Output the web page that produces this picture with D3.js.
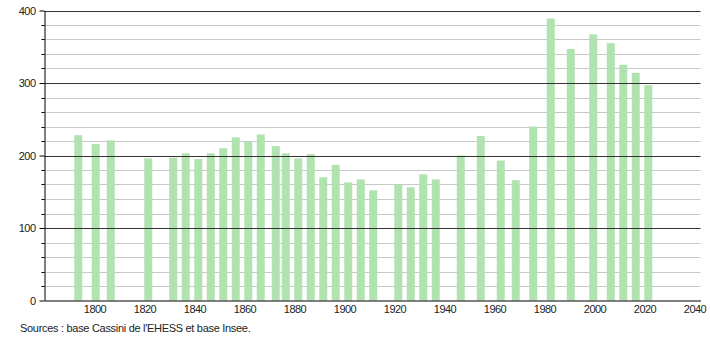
<!DOCTYPE html>
<html>
<head>
<meta charset="utf-8">
<script src="https://cdn.jsdelivr.net/npm/d3@7"></script>
<style>
  body { margin: 0; background: #fff; }
  text { font-family: "Liberation Sans", Arial, sans-serif; }
</style>
</head>
<body>
<div id="chart"></div>
<script>
// census years and population
var years = [1793, 1800, 1806, 1821, 1831, 1836, 1841, 1846, 1851, 1856, 1861, 1866,
  1872, 1876, 1881, 1886, 1891, 1896, 1901, 1906, 1911, 1921, 1926, 1931, 1936,
  1946, 1954, 1962, 1968, 1975, 1982, 1990, 1999, 2006, 2011, 2016, 2021];
var population = [228, 216, 221, 196, 197, 203, 195, 203, 210, 225, 219, 229,
  213, 203, 196, 202, 170, 187, 163, 167, 152, 160, 156, 174, 167,
  200, 227, 193, 166, 240, 389, 347, 367, 355, 325, 314, 297];
var xTicks = [1800, 1820, 1840, 1860, 1880, 1900, 1920, 1940, 1960, 1980, 2000, 2020, 2040];
var yTicks = [0, 100, 200, 300, 400];
var source = "Sources : base Cassini de l'EHESS et base Insee.";

var svgWidth = 710;
var svgHeight = 340;

var svg = d3.select("#chart")
  .append("svg")
  .attr("width", svgWidth)
  .attr("height", svgHeight);

var x = d3.scaleLinear()
  .domain([1780, 2042.4])
  .range([44.5, 700.5]);

var y = d3.scaleLinear()
  .domain([0, 400])
  .range([300.5, 10.5]);

// minor grid every 20
var minor = d3.range(20, 400, 20).filter(d => d % 100 != 0);
svg.append("g")
  .selectAll("line")
  .data(minor)
  .enter()
  .append("line")
  .attr("x1", 44.5)
  .attr("x2", 700.5)
  .attr("y1", d => Math.round(y(d)) + 0.5)
  .attr("y2", d => Math.round(y(d)) + 0.5)
  .attr("stroke", "#c8c8c8")
  .attr("stroke-width", 1);

// bars
svg.append("g")
  .selectAll("rect")
  .data(years)
  .enter()
  .append("rect")
  .attr("x", (d, i) => x(d + 0.5) - 4)
  .attr("y", (d, i) => y(population[i]))
  .attr("width", 8)
  .attr("height", (d, i) => y(0) - y(population[i]))
  .attr("fill", "#b0e3b0");

// major grid drawn over bars
svg.append("g")
  .selectAll("line")
  .data(yTicks.filter(d => d > 0))
  .enter()
  .append("line")
  .attr("x1", 44.5)
  .attr("x2", 700.5)
  .attr("y1", d => Math.round(y(d)) + 0.5)
  .attr("y2", d => Math.round(y(d)) + 0.5)
  .attr("stroke", "#333")
  .attr("stroke-width", 1);

// y axis with major and minor ticks
var yAxis = d3.axisLeft(y)
  .tickValues(yTicks)
  .tickSize(5)
  .tickSizeOuter(0)
  .tickPadding(4);

var yg = svg.append("g")
  .attr("transform", "translate(44.5,0)")
  .call(yAxis);
yg.select(".domain").attr("stroke", "#000");
yg.selectAll("text")
  .style("font-size", "11px")
  .style("letter-spacing", "-0.5px")
  .attr("fill", "#222");

svg.append("g")
  .selectAll("line")
  .data(minor)
  .enter()
  .append("line")
  .attr("x1", 41.5)
  .attr("x2", 44.5)
  .attr("y1", d => Math.round(y(d)) + 0.5)
  .attr("y2", d => Math.round(y(d)) + 0.5)
  .attr("stroke", "#000");

// x axis
var xAxis = d3.axisBottom(x)
  .tickValues(xTicks)
  .tickFormat(d3.format("d"))
  .tickSize(0)
  .tickSizeOuter(0)
  .tickPadding(5);

var xg = svg.append("g")
  .attr("transform", "translate(0,300.5)")
  .call(xAxis);
xg.select(".domain").attr("stroke", "#000");
xg.selectAll("text")
  .style("font-size", "11px")
  .style("letter-spacing", "-0.5px")
  .attr("fill", "#222");

// source note
svg.append("text")
  .attr("x", 20)
  .attr("y", 332)
  .style("font-size", "11px")
  .style("letter-spacing", "-0.3px")
  .attr("fill", "#222")
  .text(source);
</script>
</body>
</html>
